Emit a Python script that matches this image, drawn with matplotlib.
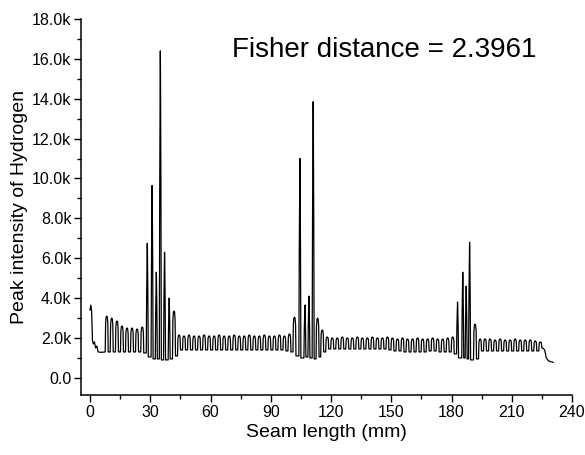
import matplotlib
matplotlib.use("Agg")
import matplotlib.pyplot as plt
from matplotlib.ticker import MultipleLocator, FuncFormatter

plt.rcParams['font.family'] = ['Liberation Sans', 'DejaVu Sans']

# ---- data ----
# initial irregular segment (mm, intensity)
start_x = [0.0, 0.4, 0.8, 1.2, 1.6, 2.2, 2.8, 3.4, 4.0, 5.5, 7.3]
start_y = [3400, 3650, 3350, 1900, 1700, 1800, 1500, 1600, 1300, 1280, 1300]

# oscillation cycles: peak centre (mm), peak value, trough value after the peak
cycle_x = [8.3, 10.8, 13.4, 15.9, 18.4, 20.9, 23.4, 26.0,
           28.5, 30.9, 33.0, 35.0, 37.1, 39.4, 41.8,
           44.3, 46.8, 49.3, 51.8, 54.3, 56.8, 59.3, 61.8, 64.3, 66.8, 69.3, 71.8,
           74.3, 76.8, 79.3, 81.8, 84.3, 86.8, 89.3, 91.8, 94.3, 96.8, 99.3,
           101.8, 104.5, 107.0, 109.0, 111.1, 113.3, 115.6,
           118.1, 120.6, 123.1, 125.6, 128.1, 130.6, 133.1, 135.6, 138.1, 140.6,
           143.1, 145.6, 148.1, 150.6, 153.1, 155.6, 158.1, 160.6, 163.1, 165.6,
           168.1, 170.6, 173.1, 175.6, 178.1, 180.6,
           183.0, 185.6, 187.3, 189.0, 191.7,
           194.2, 196.7, 199.2, 201.7, 204.2, 206.7, 209.2, 211.7, 214.2, 216.7,
           219.2, 221.7, 224.2]
peak_val = [3100, 3000, 2850, 2600, 2500, 2500, 2450, 2550,
            6750, 9650, 5300, 16400, 6300, 4000, 3350,
            2150, 2100, 2150, 2100, 2100, 2150, 2100, 2100, 2150, 2100, 2100, 2150,
            2100, 2100, 2150, 2100, 2100, 2150, 2100, 2100, 2150, 2100, 2200,
            3050, 11000, 3650, 4100, 13850, 3000, 2400,
            2050, 2000, 2000, 2050, 2000, 2000, 2050, 2000, 2000, 2050,
            2000, 2000, 2050, 2000, 1950, 2000, 1950, 1950, 2000, 1950,
            1950, 2000, 1950, 1950, 2000, 2050,
            3800, 5300, 4600, 6800, 2700,
            1950, 1950, 1950, 1900, 1950, 1900, 1900, 1950, 1900, 1900,
            1900, 1850, 1800]
trough_val = [1300, 1300, 1300, 1300, 1300, 1300, 1300, 1250,
              1050, 950, 950, 900, 900, 950, 1100,
              1400, 1400, 1400, 1400, 1400, 1400, 1400, 1400, 1400, 1400, 1400, 1400,
              1400, 1400, 1400, 1400, 1400, 1400, 1400, 1400, 1400, 1350, 1300,
              1100, 1000, 1050, 1000, 950, 1050, 1300,
              1450, 1450, 1450, 1450, 1450, 1450, 1450, 1450, 1450, 1450,
              1450, 1450, 1400, 1350, 1350, 1300, 1300, 1300, 1300, 1300,
              1350, 1350, 1300, 1300, 1300, 1200,
              1000, 1000, 950, 900, 950,
              1350, 1350, 1350, 1350, 1350, 1350, 1350, 1350, 1350, 1350,
              1350, 1350, 1500]

# tail after the last cycle
end_x = [225.4, 226.4, 227.2, 228.3, 230.6]
end_y = [1500, 1400, 1000, 850, 780]

xticks = [0, 30, 60, 90, 120, 150, 180, 210, 240]
yticks = [0, 2000, 4000, 6000, 8000, 10000, 12000, 14000, 16000, 18000]
annotation = "Fisher distance = 2.3961"

# ---- build line path from cycles ----
wave_offs = [-0.75, -0.55, -0.3, 0.0, 0.3, 0.55, 0.75]
wave_frac = [0.0, 0.8, 0.97, 1.0, 0.97, 0.8, 0.0]
spike_offs = [-0.5, -0.3, -0.08, 0.0, 0.08, 0.3, 0.5]
spike_frac = [0.0, 0.55, 0.93, 1.0, 0.93, 0.55, 0.0]
xs = list(start_x)
ys = list(start_y)
prev_t = start_y[-1]
for c, p, t in zip(cycle_x, peak_val, trough_val):
    if p > 3500:
        offs, frac = spike_offs, spike_frac
    else:
        offs, frac = wave_offs, wave_frac
    for i, (o, f) in enumerate(zip(offs, frac)):
        base = prev_t if i <= 3 else t
        xs.append(c + o)
        ys.append(base + f * (p - base))
    prev_t = t
xs += end_x
ys += end_y


def kfmt(v, pos):
    return "0.0" if abs(v) < 1e-9 else f"{v/1000:.1f}k"


fig = plt.figure(figsize=(5.85, 4.55), dpi=100)
ax = fig.add_axes([81/585, 1 - 395/455, (572-81)/585, (395-19)/455])
ax.plot(xs, ys, color='black', lw=0.9)

ax.set_xlim(-4.5, 240)
ax.set_ylim(-860, 18000)
ax.set_xticks(xticks)
ax.set_yticks(yticks)
ax.xaxis.set_minor_locator(MultipleLocator(15))
ax.yaxis.set_minor_locator(MultipleLocator(1000))
ax.yaxis.set_major_formatter(FuncFormatter(kfmt))
ax.spines['top'].set_visible(False)
ax.spines['right'].set_visible(False)
for s in ['left', 'bottom']:
    ax.spines[s].set_linewidth(1.1)
ax.tick_params(which='major', direction='out', length=5, width=1.0, labelsize=11.5, pad=2)
ax.tick_params(which='minor', direction='out', length=3, width=1.0)
ax.set_xlabel("Seam length (mm)", fontsize=14, labelpad=3)
ax.set_ylabel("Peak intensity of Hydrogen", fontsize=14, labelpad=3)
ax.text(70.7, 16450, annotation, fontsize=20, va='center', ha='left')

fig.savefig("out.png", dpi=100)
